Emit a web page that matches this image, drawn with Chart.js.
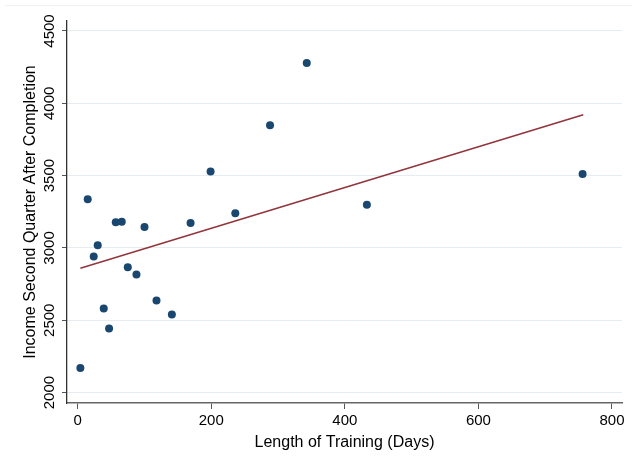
<!DOCTYPE html>
<html>
<head>
<meta charset="utf-8">
<script src="https://cdn.jsdelivr.net/npm/chart.js@4/dist/chart.umd.min.js"></script>
<style>
  html, body { margin: 0; padding: 0; background: #fff; }
  #wrap { position: relative; width: 632px; height: 463px; }
  #topline { position: absolute; left: 5px; right: 0; top: 5px; border-top: 1px solid #eef2f4; }
</style>
</head>
<body>
<div id="wrap">
  <div id="topline"></div>
  <canvas id="c" width="632" height="463"></canvas>
</div>
<script>
// Length of training (days)
const trainingDays = [4, 15, 24, 30, 39, 47, 57, 66, 75, 88, 100, 118, 141, 169, 199, 236, 288, 343, 433, 756];
// Income second quarter after completion
const income = [2170, 3336, 2941, 3019, 2581, 2443, 3178, 3181, 2867, 2817, 3144, 2637, 2540, 3172, 3529, 3239, 3848, 4279, 3298, 3511];
// Fitted line endpoints
const fitX = [4, 757];
const fitY = [2860, 3921];
// Tick labels
const xTicks = [0, 200, 400, 600, 800];
const yTicks = [2000, 2500, 3000, 3500, 4000, 4500];

const scatterPts = trainingDays.map((d, i) => ({ x: d, y: income[i] }));
const fitPts = fitX.map((d, i) => ({ x: d, y: fitY[i] }));

const FONT = "'Liberation Sans', Arial, sans-serif";

new Chart(document.getElementById('c'), {
  type: 'scatter',
  data: {
    datasets: [
      {
        type: 'line',
        data: fitPts,
        borderColor: '#90353b',
        borderWidth: 1.5,
        pointRadius: 0,
        fill: false,
        order: 2
      },
      {
        data: scatterPts,
        backgroundColor: '#1a476f',
        borderColor: '#1a476f',
        pointRadius: 4,
        pointBorderWidth: 0,
        order: 1
      }
    ]
  },
  options: {
    responsive: false,
    animation: false,
    devicePixelRatio: 1,
    layout: { padding: { left: 0, top: 21, right: 10, bottom: 0 } },
    plugins: { legend: { display: false }, tooltip: { enabled: false } },
    scales: {
      x: {
        type: 'linear',
        min: -16,
        max: 815,
        afterBuildTicks: s => { s.ticks = xTicks.map(v => ({ value: v })); },
        afterFit: s => { s.height = 60; },
        grid: { drawOnChartArea: false, drawTicks: true, tickLength: 6, tickColor: '#555', tickWidth: 1 },
        border: { display: true, color: '#666', width: 1.5 },
        ticks: { color: '#000', font: { family: FONT, size: 15 }, padding: 3, maxRotation: 0, autoSkip: false, callback: v => String(v) },
        title: { display: true, text: 'Length of Training (Days)', color: '#000', font: { family: FONT, size: 16 }, padding: { top: 0, bottom: 11 } }
      },
      y: {
        type: 'linear',
        min: 1928,
        max: 4569,
        afterBuildTicks: s => { s.ticks = yTicks.map(v => ({ value: v })); },
        afterFit: s => { s.width = 67; },
        grid: { color: '#e6edf1', lineWidth: 1, drawTicks: true, tickLength: 5, tickColor: '#555', tickWidth: 1 },
        border: { display: true, color: '#333', width: 1.3 },
        ticks: { color: '#000', font: { family: FONT, size: 15 }, padding: -5, minRotation: 90, maxRotation: 90, crossAlign: 'center', autoSkip: false, callback: v => String(v) },
        title: { display: true, text: 'Income Second Quarter After Completion', color: '#000', font: { family: FONT, size: 16 }, padding: { top: 21, bottom: 0 } }
      }
    }
  }
});
</script>
</body>
</html>
